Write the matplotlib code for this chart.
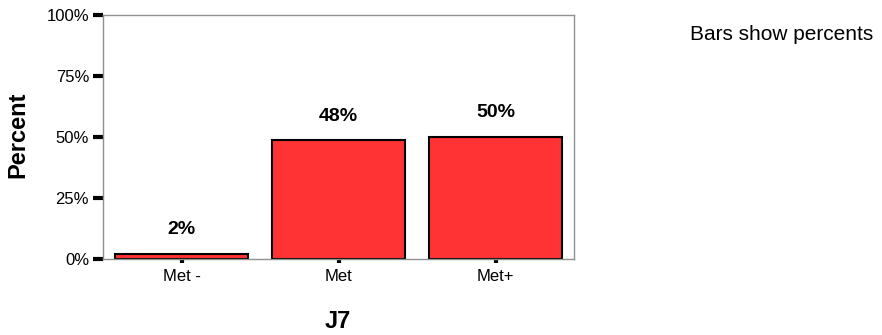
import numpy as np
import matplotlib as mpl
mpl.use('Agg')
import matplotlib.pyplot as plt
import matplotlib.ticker as mticker

categories = ["Met -", "Met", "Met+"]
percents = [2.2, 48.6, 50.2]
bar_labels = ["2%", "48%", "50%"]
yticks = [0, 25, 50, 75, 100]

plt.rcParams['font.family'] = ['Liberation Sans', 'DejaVu Sans']

W, H = 882, 335
fig = plt.figure(figsize=(W / 100, H / 100), dpi=100)
ax = fig.add_axes([103 / W, 1 - 259 / H, (574 - 103) / W, (259 - 15) / H])

x = np.arange(len(categories)) + 0.5
bars = ax.bar(x, percents, width=0.85, color="#FF3333", edgecolor="black", linewidth=1.5)

for xi, p, lab in zip(x, percents, bar_labels):
    ax.annotate(lab, (xi, p), xytext=(0, 17.5), textcoords="offset points",
                ha="center", va="center", fontsize=14, fontweight="bold")

ax.set_xlim(0, 3)
ax.set_ylim(0, 100)
ax.set_xticks(x)
ax.set_xticklabels(categories, fontsize=12)
ax.set_yticks(yticks)
ax.yaxis.set_major_formatter(mticker.FuncFormatter(lambda v, pos: "%d%%" % v))
ax.tick_params(axis="y", length=7, width=3, color="black", labelsize=12, pad=3)
ax.tick_params(axis="x", length=3, width=3, color="black", pad=4)

for s in ax.spines.values():
    s.set_color("#909090")
    s.set_linewidth(1.0)

fig.text(18 / W, 1 - 135 / H, "Percent", fontsize=17, fontweight="bold",
         rotation=90, ha="center", va="center")
fig.text(338 / W, 1 - 321 / H, "J7", fontsize=17, fontweight="bold",
         ha="center", va="center")

fig.text(690 / W, 1 - 35 / H, "Bars show percents", fontsize=15, ha="left", va="center")

fig.savefig("out.png", dpi=100)
